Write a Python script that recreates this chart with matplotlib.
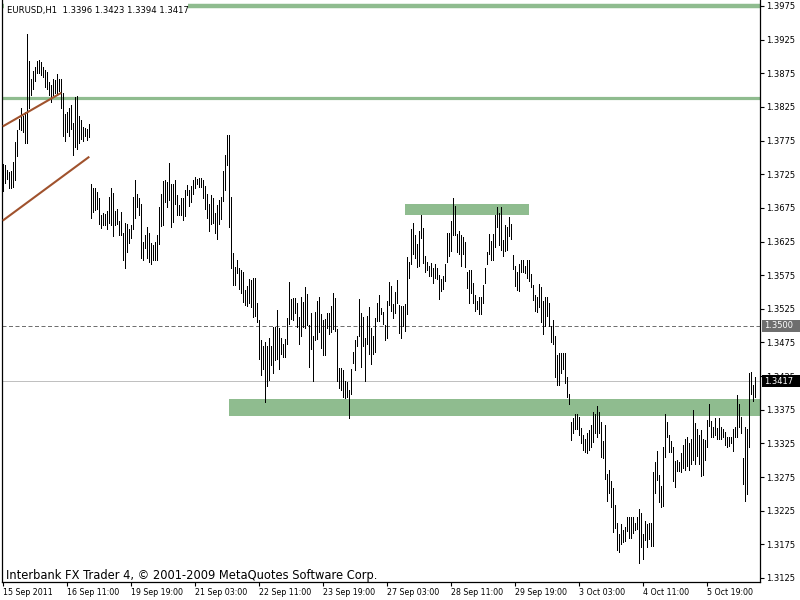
import matplotlib
matplotlib.use('Agg')
import matplotlib.pyplot as plt
import numpy as np
from matplotlib.patches import Rectangle
from matplotlib.transforms import blended_transform_factory

# ---------------- data (EURUSD H1 bar highs / lows) ----------------
highs = [
    # 15-16 Sep
    1.3740, 1.3738, 1.3732, 1.3728, 1.3730, 1.3743, 1.3773, 1.3790, 1.3807, 1.3823,
    1.3812, 1.3817, 1.3933, 1.3893, 1.3867, 1.3879, 1.3884, 1.3893, 1.3894, 1.3892,
    1.3885, 1.3880, 1.3877, 1.3862, 1.3857, 1.3867, 1.3865, 1.3874, 1.3866, 1.3866,
    1.3846, 1.3814, 1.3818, 1.3823, 1.3828, 1.3801, 1.3840, 1.3841, 1.3812, 1.3805,
    1.3795, 1.3794, 1.3792, 1.3799,
    # 19-21 Sep
    1.3710, 1.3705, 1.3705, 1.3699, 1.3690, 1.3665, 1.3667, 1.3666, 1.3670, 1.3691,
    1.3705, 1.3697, 1.3671, 1.3673, 1.3655, 1.3669, 1.3637, 1.3652, 1.3651, 1.3644,
    1.3650, 1.3691, 1.3717, 1.3695, 1.3689, 1.3680, 1.3625, 1.3635, 1.3646, 1.3637,
    1.3623, 1.3620, 1.3624, 1.3635, 1.3676, 1.3695, 1.3715, 1.3716, 1.3713, 1.3742,
    1.3710, 1.3710, 1.3716, 1.3694, 1.3679, 1.3690, 1.3690, 1.3701, 1.3709, 1.3701,
    1.3707, 1.3717, 1.3721, 1.3718, 1.3719, 1.3719, 1.3716, 1.3708, 1.3696, 1.3680,
    1.3694, 1.3690, 1.3667, 1.3679, 1.3687, 1.3691, 1.3730, 1.3753, 1.3784, 1.3783,
    1.3691, 1.3608, 1.3587, 1.3598,
    # 22-26 Sep
    1.3585, 1.3582, 1.3580, 1.3553, 1.3559, 1.3570, 1.3568, 1.3571, 1.3571, 1.3534,
    1.3508, 1.3479, 1.3469, 1.3476, 1.3469, 1.3481, 1.3470, 1.3498, 1.3498, 1.3523,
    1.3497, 1.3482, 1.3472, 1.3480, 1.3512, 1.3565, 1.3540, 1.3541, 1.3541, 1.3533,
    1.3513, 1.3543, 1.3535, 1.3558, 1.3547, 1.3501, 1.3519, 1.3485, 1.3520, 1.3537,
    1.3543, 1.3517, 1.3508, 1.3510, 1.3519, 1.3519, 1.3529, 1.3549, 1.3541, 1.3495,
    1.3437, 1.3437, 1.3434, 1.3418, 1.3416, 1.3404, 1.3436, 1.3461, 1.3478, 1.3485,
    1.3539, 1.3519, 1.3513, 1.3481, 1.3515, 1.3527, 1.3497, 1.3484, 1.3512, 1.3534,
    1.3546, 1.3526, 1.3520, 1.3501,
    # 27-29 Sep
    1.3537, 1.3565, 1.3559, 1.3532, 1.3550, 1.3568, 1.3530, 1.3529, 1.3529, 1.3532,
    1.3602, 1.3594, 1.3644, 1.3653, 1.3635, 1.3621, 1.3640, 1.3665, 1.3645, 1.3604,
    1.3594, 1.3589, 1.3593, 1.3585, 1.3592, 1.3585, 1.3575, 1.3569, 1.3574, 1.3591,
    1.3637, 1.3637, 1.3655, 1.3689, 1.3678, 1.3636, 1.3640, 1.3634, 1.3632, 1.3625,
    1.3580, 1.3582, 1.3583, 1.3563, 1.3545, 1.3537, 1.3543, 1.3543, 1.3560, 1.3586,
    1.3610, 1.3636, 1.3626, 1.3636, 1.3664, 1.3676, 1.3667, 1.3676, 1.3627, 1.3650,
    1.3646, 1.3661, 1.3651, 1.3605, 1.3588, 1.3579, 1.3592, 1.3598, 1.3597, 1.3589,
    1.3598, 1.3598, 1.3577, 1.3560,
    # 29 Sep - 4 Oct
    1.3546, 1.3543, 1.3562, 1.3558, 1.3537, 1.3543, 1.3542, 1.3534, 1.3500, 1.3508,
    1.3484, 1.3457, 1.3460, 1.3459, 1.3459, 1.3460, 1.3424, 1.3398, 1.3357, 1.3363,
    1.3368, 1.3369, 1.3364, 1.3348, 1.3337, 1.3332, 1.3340, 1.3345, 1.3353, 1.3371,
    1.3369, 1.3380, 1.3371, 1.3357, 1.3329, 1.3353, 1.3280, 1.3285, 1.3269, 1.3258,
    1.3233, 1.3207, 1.3191, 1.3205, 1.3197, 1.3201, 1.3215, 1.3215, 1.3215, 1.3215,
    1.3207, 1.3215, 1.3227, 1.3221, 1.3191, 1.3210, 1.3205, 1.3207, 1.3206, 1.3282,
    1.3298, 1.3313, 1.3278, 1.3261, 1.3320, 1.3369, 1.3357, 1.3338, 1.3329, 1.3319,
    1.3299, 1.3300, 1.3297, 1.3310,
    # 4-6 Oct
    1.3322, 1.3331, 1.3334, 1.3325, 1.3332, 1.3374, 1.3356, 1.3347, 1.3337, 1.3345,
    1.3331, 1.3330, 1.3360, 1.3383, 1.3359, 1.3350, 1.3363, 1.3348, 1.3362, 1.3349,
    1.3346, 1.3342, 1.3335, 1.3334, 1.3335, 1.3346, 1.3349, 1.3397, 1.3383, 1.3364,
    1.3303, 1.3350, 1.3347, 1.3430, 1.3431, 1.3412, 1.3423,
]
lows = [
    1.3700, 1.3712, 1.3718, 1.3705, 1.3704, 1.3706, 1.3716, 1.3752, 1.3792, 1.3790,
    1.3787, 1.3771, 1.3771, 1.3824, 1.3842, 1.3851, 1.3864, 1.3875, 1.3875, 1.3873,
    1.3869, 1.3855, 1.3851, 1.3842, 1.3833, 1.3843, 1.3846, 1.3842, 1.3848, 1.3824,
    1.3782, 1.3775, 1.3787, 1.3782, 1.3792, 1.3753, 1.3766, 1.3763, 1.3772, 1.3778,
    1.3774, 1.3782, 1.3776, 1.3780,
    1.3660, 1.3669, 1.3672, 1.3673, 1.3651, 1.3645, 1.3650, 1.3649, 1.3643, 1.3652,
    1.3649, 1.3633, 1.3649, 1.3651, 1.3634, 1.3634, 1.3598, 1.3586, 1.3610, 1.3623,
    1.3630, 1.3644, 1.3660, 1.3676, 1.3664, 1.3601, 1.3597, 1.3615, 1.3601, 1.3594,
    1.3592, 1.3597, 1.3598, 1.3598, 1.3622, 1.3648, 1.3650, 1.3684, 1.3677, 1.3686,
    1.3646, 1.3654, 1.3681, 1.3664, 1.3664, 1.3665, 1.3657, 1.3663, 1.3694, 1.3678,
    1.3684, 1.3695, 1.3704, 1.3710, 1.3706, 1.3706, 1.3690, 1.3673, 1.3660, 1.3640,
    1.3651, 1.3653, 1.3638, 1.3628, 1.3651, 1.3658, 1.3685, 1.3701, 1.3738, 1.3647,
    1.3586, 1.3560, 1.3560, 1.3578,
    1.3555, 1.3549, 1.3535, 1.3531, 1.3529, 1.3534, 1.3528, 1.3513, 1.3515, 1.3506,
    1.3450, 1.3426, 1.3435, 1.3386, 1.3411, 1.3419, 1.3441, 1.3429, 1.3449, 1.3450,
    1.3435, 1.3458, 1.3454, 1.3454, 1.3473, 1.3503, 1.3510, 1.3508, 1.3519, 1.3498,
    1.3473, 1.3484, 1.3498, 1.3496, 1.3501, 1.3439, 1.3466, 1.3417, 1.3479, 1.3480,
    1.3491, 1.3467, 1.3457, 1.3457, 1.3496, 1.3487, 1.3491, 1.3495, 1.3492, 1.3417,
    1.3408, 1.3404, 1.3394, 1.3392, 1.3394, 1.3362, 1.3399, 1.3444, 1.3434, 1.3469,
    1.3484, 1.3439, 1.3469, 1.3417, 1.3472, 1.3458, 1.3443, 1.3458, 1.3461, 1.3507,
    1.3507, 1.3517, 1.3502, 1.3479,
    1.3481, 1.3530, 1.3522, 1.3512, 1.3519, 1.3533, 1.3489, 1.3481, 1.3499, 1.3492,
    1.3517, 1.3571, 1.3592, 1.3606, 1.3601, 1.3587, 1.3589, 1.3630, 1.3593, 1.3579,
    1.3583, 1.3574, 1.3573, 1.3563, 1.3571, 1.3570, 1.3540, 1.3552, 1.3554, 1.3567,
    1.3594, 1.3603, 1.3611, 1.3634, 1.3634, 1.3610, 1.3606, 1.3588, 1.3606, 1.3587,
    1.3556, 1.3533, 1.3548, 1.3533, 1.3522, 1.3524, 1.3518, 1.3517, 1.3534, 1.3564,
    1.3592, 1.3606, 1.3598, 1.3597, 1.3617, 1.3646, 1.3620, 1.3613, 1.3603, 1.3611,
    1.3613, 1.3633, 1.3629, 1.3584, 1.3559, 1.3553, 1.3552, 1.3579, 1.3580, 1.3578,
    1.3571, 1.3566, 1.3558, 1.3538,
    1.3521, 1.3520, 1.3528, 1.3506, 1.3487, 1.3499, 1.3515, 1.3500, 1.3476, 1.3473,
    1.3423, 1.3412, 1.3412, 1.3430, 1.3436, 1.3414, 1.3394, 1.3383, 1.3330, 1.3340,
    1.3346, 1.3346, 1.3338, 1.3326, 1.3315, 1.3312, 1.3311, 1.3315, 1.3320, 1.3327,
    1.3341, 1.3335, 1.3341, 1.3305, 1.3304, 1.3272, 1.3240, 1.3252, 1.3231, 1.3194,
    1.3199, 1.3166, 1.3163, 1.3176, 1.3178, 1.3180, 1.3195, 1.3185, 1.3184, 1.3192,
    1.3196, 1.3198, 1.3147, 1.3171, 1.3153, 1.3181, 1.3171, 1.3183, 1.3172, 1.3172,
    1.3251, 1.3271, 1.3238, 1.3231, 1.3232, 1.3305, 1.3335, 1.3312, 1.3312, 1.3269,
    1.3260, 1.3284, 1.3284, 1.3283,
    1.3288, 1.3286, 1.3291, 1.3285, 1.3295, 1.3301, 1.3295, 1.3306, 1.3294, 1.3276,
    1.3278, 1.3300, 1.3320, 1.3351, 1.3335, 1.3335, 1.3337, 1.3331, 1.3332, 1.3332,
    1.3335, 1.3322, 1.3319, 1.3321, 1.3325, 1.3313, 1.3334, 1.3335, 1.3350, 1.3341,
    1.3265, 1.3240, 1.3250, 1.3320, 1.3399, 1.3388, 1.3394,
]

time_tick_index = [0, 32, 64, 96, 128, 160, 192, 224, 256, 288, 320, 352]
time_tick_labels = ["15 Sep 2011", "16 Sep 11:00", "19 Sep 19:00", "21 Sep 03:00",
                    "22 Sep 11:00", "23 Sep 19:00", "27 Sep 03:00", "28 Sep 11:00",
                    "29 Sep 19:00", "3 Oct 03:00", "4 Oct 11:00", "5 Oct 19:00"]
price_ticks = [1.3125, 1.3175, 1.3225, 1.3275, 1.3325, 1.3375, 1.3425, 1.3475,
               1.3525, 1.3575, 1.3625, 1.3675, 1.3725, 1.3775, 1.3825, 1.3875,
               1.3925, 1.3975]

header = "EURUSD,H1  1.3396 1.3423 1.3394 1.3417"
watermark = "Interbank FX Trader 4, \u00a9 2001-2009 MetaQuotes Software Corp."

# drawn objects
hlines_green = [(1.3975, 3.2), (1.3839, 2.3)]    # level, line width
level_dashed = 1.3500
last_price = 1.3417
support_zone = (112.8, 1.3365, 1.3391)          # start bar, low, high
resistance_zone = (200.7, 263.0, 1.3665, 1.3680)  # start bar, end bar, low, high
trend_upper = ([-0.3, 29.0], [1.3796, 1.3846])
trend_lower = ([-0.3, 43.0], [1.3656, 1.3751])

# ---------------- figure ----------------
plt.rcParams['font.family'] = ['DejaVu Sans']
W, H = 800, 600
fig = plt.figure(figsize=(8, 6), dpi=100)
fig.patch.set_facecolor('white')
ax = fig.add_axes([2 / W, 18 / H, 758 / W, 582 / H])
ax.set_facecolor('white')

n = len(highs)
idx = np.arange(n)
ax.set_xlim(-0.65, 378.35)
ax.set_ylim(1.31190, 1.39839)

GREEN = '#8FBC8F'
ax.add_patch(Rectangle((support_zone[0], support_zone[1]), 400, support_zone[2] - support_zone[1],
                       facecolor=GREEN, edgecolor='none', zorder=1))
ax.add_patch(Rectangle((resistance_zone[0], resistance_zone[2]),
                       resistance_zone[1] - resistance_zone[0],
                       resistance_zone[3] - resistance_zone[2],
                       facecolor=GREEN, edgecolor='none', zorder=1))
for lv, w in hlines_green:
    ax.axhline(lv, color=GREEN, lw=w, zorder=1)
ax.axhline(level_dashed, color='#707070', lw=0.72, dashes=(4, 2.5), zorder=1)
ax.axhline(last_price, color='#C0C0C0', lw=0.72, zorder=1)

ax.vlines(idx, lows, highs, color='black', lw=0.55, antialiased=False, zorder=3)

for xs, ys in (trend_upper, trend_lower):
    ax.plot(xs, ys, color='#A0522D', lw=1.5, solid_capstyle='butt', zorder=4)

# axes styling
for s in ('left', 'right', 'bottom'):
    ax.spines[s].set_color('black')
    ax.spines[s].set_linewidth(0.9)
ax.spines['top'].set_visible(False)

ax.yaxis.tick_right()
ax.set_yticks(price_ticks)
ax.set_yticklabels(["%.4f" % p for p in price_ticks])
ax.tick_params(axis='y', direction='out', length=3, width=0.8, pad=1.5,
               labelsize=6.0, colors='black')
ax.set_xticks(time_tick_index)
ax.set_xticklabels(time_tick_labels, ha='left')
ax.tick_params(axis='x', direction='out', length=3, width=0.8, pad=1.5,
               labelsize=5.7, colors='black')
for lab in ax.get_xticklabels():
    lab.set_horizontalalignment('left')

# price label boxes on right scale
tr = blended_transform_factory(fig.transFigure, ax.transData)
pix = (1.39839 - 1.31190) / 582.0
for lv, fc in ((level_dashed, '#6E6E6E'), (last_price, 'black')):
    ax.add_patch(Rectangle((761.5 / W, lv - 6 * pix), 38.5 / W, 12 * pix, transform=tr,
                           facecolor=fc, edgecolor='none', clip_on=False, zorder=10))
    ax.text(764 / W, lv, "%.4f" % lv, transform=tr, color='white', fontsize=6.0,
            va='center', ha='left', clip_on=False, zorder=11)

# header label with white background
fig.add_artist(Rectangle((4 / W, 1 - 17 / H), 184 / W, 17 / H, transform=fig.transFigure,
                         facecolor='white', edgecolor='none', zorder=5))
fig.text(7 / W, 1 - 11 / H, header, fontsize=6.1, va='center', ha='left', zorder=6)
fig.text(6 / W, 1 - 576 / H, watermark, fontsize=8.3, va='center', ha='left', zorder=6)

fig.savefig('out.png', dpi=100, facecolor='white')
